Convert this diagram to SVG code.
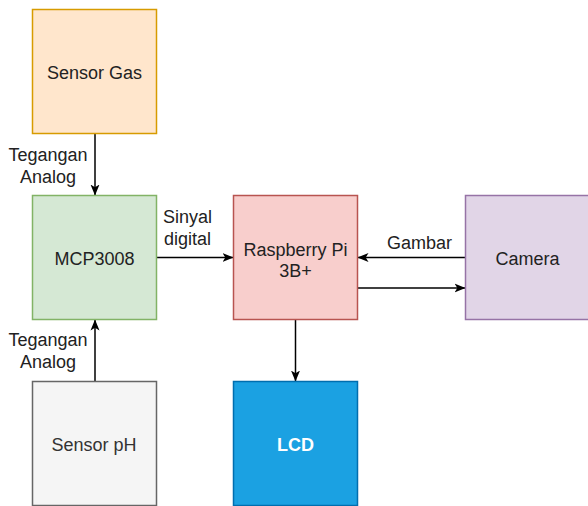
<svg xmlns="http://www.w3.org/2000/svg" width="588" height="506" viewBox="0 0 588 506">
<style>
  .box { stroke-width: 1.5; }
  .lbl { font-family: "Liberation Sans", Arial, sans-serif; font-size: 18px; fill: #222222; text-anchor: middle; }
  .edge { fill: none; stroke: #000000; stroke-width: 1.5; }
</style>
<defs>
  <marker id="arr" viewBox="0 0 11 10" refX="10.5" refY="5" markerWidth="11" markerHeight="10" markerUnits="userSpaceOnUse" orient="auto">
    <path d="M0,0.5 L11,5 L0,9.5 L2.8,5 Z" fill="#000000"/>
  </marker>
</defs>
<rect width="588" height="506" fill="#ffffff"/>

<g id="connectors">
  <path class="edge" d="M95,133.5 L95,195" marker-end="url(#arr)"/>
  <path class="edge" d="M95,381.5 L95,320" marker-end="url(#arr)"/>
  <path class="edge" d="M156.5,257.5 L233,257.5" marker-end="url(#arr)"/>
  <path class="edge" d="M465.5,257.5 L358,257.5" marker-end="url(#arr)"/>
  <path class="edge" d="M357.5,288 L465,288" marker-end="url(#arr)"/>
  <path class="edge" d="M295.5,319.5 L295.5,381" marker-end="url(#arr)"/>
  <text class="lbl" x="48" y="161">Tegangan</text>
  <text class="lbl" x="48" y="183">Analog</text>
  <text class="lbl" x="48" y="346">Tegangan</text>
  <text class="lbl" x="48" y="368">Analog</text>
  <text class="lbl" x="187.5" y="223">Sinyal</text>
  <text class="lbl" x="187.5" y="245">digital</text>
  <text class="lbl" x="419.5" y="249">Gambar</text>
</g>

<g id="sensor-gas">
  <rect class="box" x="32.5" y="9.5" width="124" height="124" fill="#ffe6cc" stroke="#d79b00"/>
  <text class="lbl" x="94.5" y="79">Sensor Gas</text>
</g>
<g id="mcp3008">
  <rect class="box" x="32.5" y="195.5" width="124" height="124" fill="#d5e8d4" stroke="#82b366"/>
  <text class="lbl" x="94.5" y="265">MCP3008</text>
</g>
<g id="sensor-ph">
  <rect class="box" x="32.5" y="381.5" width="124" height="124" fill="#f5f5f5" stroke="#666666"/>
  <text class="lbl" x="94" y="450.5" style="fill:#333333">Sensor pH</text>
</g>
<g id="raspberry-pi">
  <rect class="box" x="233.5" y="195.5" width="124" height="124" fill="#f8cecc" stroke="#b85450"/>
  <text class="lbl" x="295.5" y="255.5">Raspberry Pi</text>
  <text class="lbl" x="295.5" y="277">3B+</text>
</g>
<g id="lcd">
  <rect class="box" x="233.5" y="381.5" width="124" height="124" fill="#1ba1e2" stroke="#006eaf"/>
  <text class="lbl" x="295.5" y="450.5" style="fill:#ffffff;font-weight:bold">LCD</text>
</g>
<g id="camera">
  <rect class="box" x="465.5" y="195.5" width="124" height="124" fill="#e1d5e7" stroke="#9673a6"/>
  <text class="lbl" x="527.5" y="265">Camera</text>
</g>
</svg>
